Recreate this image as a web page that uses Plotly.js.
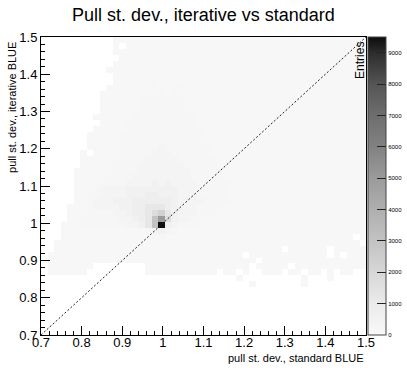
<!DOCTYPE html>
<html>
<head>
<meta charset="utf-8">
<script src="https://cdn.plot.ly/plotly-3.0.1.min.js"></script>
<style>
  html, body { margin: 0; padding: 0; background: #fff; }
  #chart { width: 407px; height: 374px; }
</style>
</head>
<body>
<div id="chart"></div>
<script>
// ---- data ----
const titleText = 'Pull st. dev., iterative vs standard';
const xTitle = 'pull st. dev., standard BLUE';
const yTitle = 'pull st. dev., iterative BLUE';
const zTitle = 'Entries';

// 50 x 50 bins, 0.7 .. 1.5, bin width 0.016
const binFirstCenter = 0.708;
const binWidth = 0.016;

// bin content levels used in the rows below ('.' = empty bin)
const levelValues = {
  '1': 60, '2': 150, '3': 300, '4': 500, '5': 800, '6': 1200,
  '7': 1700, '8': 2300, '9': 3000, 'A': 5000, 'X': 9510
};

// rows from top (y bin 49) to bottom (y bin 0); groups of 10 x bins
const zRowsTopDown = [
  ".......... .111111111 1111111111 1111111111 1111111111",
  ".......... .1.1111111 1111111111 1111111111 1111111111",
  ".......... .111111111 1111111111 1111111111 1111111111",
  ".......... ..11111111 1111111111 1111111111 1111111111",
  ".......... .111111111 1111111111 1111111111 1111111111",
  ".......... 1111111111 1111111111 1111111111 1111111111",
  ".......... .111112111 1111111111 1111111111 1111111111",
  ".......... .111112211 1111111111 1111111111 1111111111",
  ".......... 1111112211 1211111111 1111111111 1111111111",
  ".........1 1111112221 2211111111 1111111111 1111111111",
  ".........1 1111122222 2211111111 1111111111 1111111111",
  ".........1 1111122222 2221111111 1111111111 1111111111",
  ".........1 1111222222 2221111111 1111111111 1111111111",
  "........11 1111222222 2222111111 1111111111 1111111111",
  ".........1 1112222222 2222111111 1111111111 1111111111",
  "........11 1112222222 2222211111 1111111111 1111111111",
  ".......111 1122222222 2222211111 1111111111 1111111111",
  ".......111 1122222222 2222221111 1111111111 1111111111",
  ".......111 1222222232 2222221111 1111111111 1111111111",
  "......1.11 1222222333 2222221111 1111111111 1111111111",
  "......1111 1222223333 3222222111 1111111111 1111111111",
  "......1111 2222233333 3322222111 1111111111 1111111111",
  ".....11111 2222233333 3332222211 1111111111 1111111111",
  ".....11112 2222333333 3332222211 1111111111 1111111111",
  ".....11122 2223333434 3333222221 1111111111 1111111111",
  ".....11223 3334444444 4333222221 1111111111 1111111111",
  ".....11223 3334445544 4333222221 1111111111 1111111111",
  ".....11233 3444555555 4333322221 1111111111 1111111111",
  "....111233 3344556665 4333222211 1111111111 1111111111",
  "....112222 2334556786 4333222211 1111111111 1111111111",
  "....112222 22334569A7 4332221111 1111111111 1111111111",
  "...1112222 22233469X5 3222211111 1111111111 1111111111",
  "...1111111 1111112343 2111111111 1111111111 1111111111",
  "...1111111 1111111221 1111111111 1111111111 11111111.1",
  "..11111111 1111111111 1111111111 1111111111 111111111.",
  "..11111111 1111111111 1111111111 1111111.11 1111.11111",
  ".111111111 1111111111 1111111111 1.11111111 1111.1.111",
  ".111111111 1111111111 1111111111 111.111111 1111111111",
  ".1111111.. ......1111 1111111111 11.11111.1 1111111111",
  ".111111... ......1111 1111111.11 .1..111.11 .11.1.11..",
  ".......... .......... .......... 1......... 1...1.....",
  ".......... .......... .......... ..1....... 1.........",
  ".......... .......... .......... .......... ..........",
  ".......... .......... .......... .......... ..........",
  ".......... .......... .......... .......... ..........",
  ".......... .......... .......... .......... ..........",
  ".......... .......... .......... .......... ..........",
  ".......... .......... .......... .......... ..........",
  ".......... .......... .......... .......... ..........",
  ".......... .......... .......... .......... .........."
];

const zMax = 9510;
const colorbarTicks = [0, 1000, 2000, 3000, 4000, 5000, 6000, 7000, 8000, 9000];
const diagX = [0.7, 1.5];
const diagY = [0.7, 1.5];

// ---- build z matrix (bottom row first) ----
const z = zRowsTopDown.slice().reverse().map(function (row) {
  return row.replace(/ /g, '').split('').map(function (c) {
    return c === '.' ? null : levelValues[c];
  });
});

const FONT = 'Liberation Sans, Arial, Helvetica, sans-serif';

const grey = [
  [0.000, 'rgb(248,248,248)'],
  [0.105, 'rgb(235,235,235)'],
  [0.210, 'rgb(215,215,215)'],
  [0.315, 'rgb(195,195,195)'],
  [0.420, 'rgb(175,175,175)'],
  [0.526, 'rgb(155,155,155)'],
  [0.630, 'rgb(130,130,130)'],
  [0.736, 'rgb(110,110,110)'],
  [0.840, 'rgb(85,85,85)'],
  [0.946, 'rgb(45,45,45)'],
  [1.000, 'rgb(12,12,12)']
];

const heat = {
  type: 'heatmap',
  z: z,
  x0: binFirstCenter, dx: binWidth,
  y0: binFirstCenter, dy: binWidth,
  zmin: 0, zmax: zMax,
  zsmooth: false,
  colorscale: grey,
  hoverinfo: 'skip',
  colorbar: {
    x: 1.006, xref: 'paper', xanchor: 'left',
    y: 0.5, yref: 'paper', yanchor: 'middle',
    len: 1, lenmode: 'fraction',
    thickness: 18, thicknessmode: 'pixels',
    xpad: 0, ypad: 0,
    outlinewidth: 1, outlinecolor: '#444',
    borderwidth: 0,
    tickmode: 'array', tickvals: colorbarTicks, ticktext: colorbarTicks.map(String),
    ticks: 'inside', ticklen: 9, tickwidth: 1, tickcolor: '#222',
    tickfont: { family: FONT, size: 6, color: '#000' }
  }
};

const diag = {
  type: 'scatter', mode: 'lines',
  x: diagX, y: diagY,
  line: { color: '#222', width: 1, dash: '2px,2px' },
  hoverinfo: 'skip', showlegend: false
};

const axisCommon = {
  range: [0.7, 1.5],
  dtick: 0.1, tick0: 0.7,
  ticks: 'inside', ticklen: 9, tickwidth: 1, tickcolor: '#000',
  minor: { dtick: 0.02, ticks: 'inside', ticklen: 4, tickwidth: 1, tickcolor: '#000' },
  showline: true, mirror: true, linecolor: '#000', linewidth: 1,
  showgrid: false, zeroline: false,
  tickfont: { family: FONT, size: 13, color: '#000' },
  fixedrange: true,
  automargin: false
};

const layout = {
  width: 407, height: 374,
  margin: { l: 41, r: 41, t: 37, b: 39, pad: 0, autoexpand: false },
  paper_bgcolor: '#fff', plot_bgcolor: '#fff',
  showlegend: false,
  title: {
    text: titleText,
    font: { family: FONT, size: 18, color: '#000' },
    x: 0.5, xref: 'paper', xanchor: 'center',
    y: 0.962, yref: 'container', yanchor: 'middle'
  },
  xaxis: Object.assign({}, axisCommon, { ticklabelstandoff: -5 }),
  yaxis: Object.assign({}, axisCommon, { ticklabelstandoff: 0 }),
  annotations: [
    {
      text: xTitle, showarrow: false,
      xref: 'paper', yref: 'paper', x: 1, y: -0.077,
      xanchor: 'right', yanchor: 'middle',
      font: { family: FONT, size: 11, color: '#000' }
    },
    {
      text: yTitle, showarrow: false, textangle: -90,
      xref: 'paper', yref: 'paper', x: -0.088, y: 0.99,
      xanchor: 'center', yanchor: 'top',
      font: { family: FONT, size: 11, color: '#000' }
    },
    {
      text: zTitle, showarrow: false, textangle: -90,
      xref: 'paper', yref: 'paper', x: 0.983, y: 0.99,
      xanchor: 'center', yanchor: 'top',
      font: { family: FONT, size: 12, color: '#000' }
    }
  ]
};

Plotly.newPlot('chart', [heat, diag], layout, { displayModeBar: false, staticPlot: true });
</script>
</body>
</html>
